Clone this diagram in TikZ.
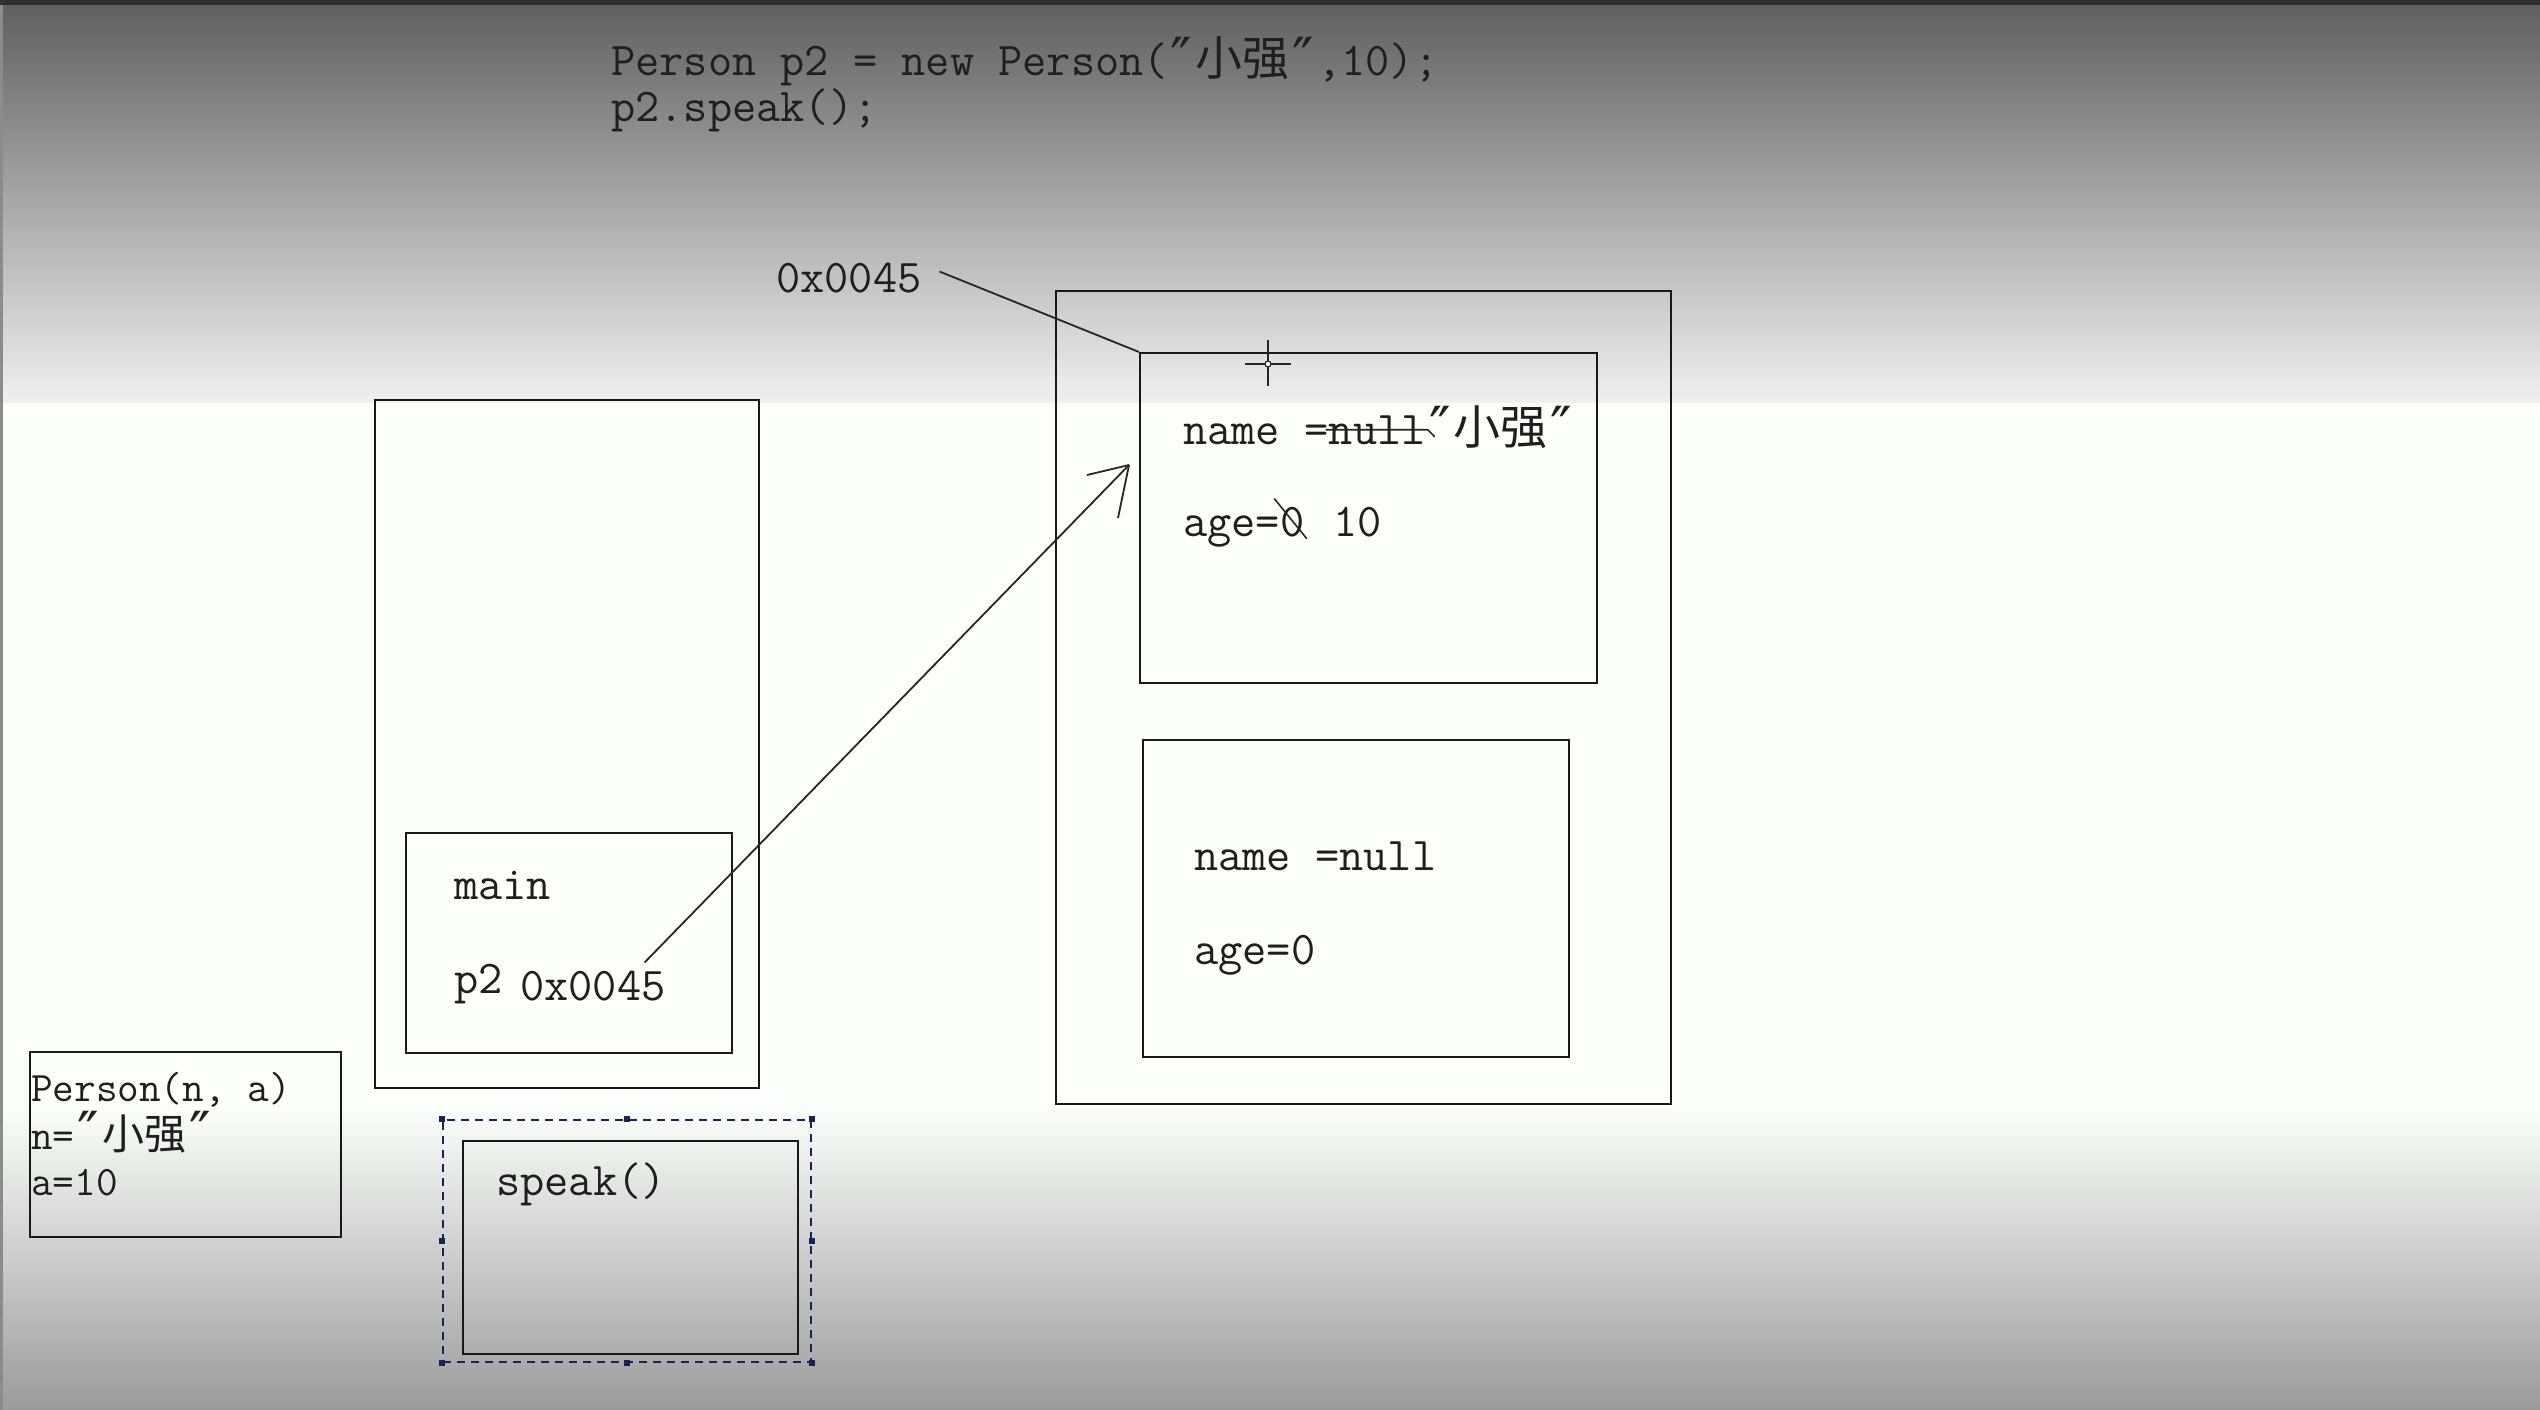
\documentclass[tikz,border=0pt]{standalone}
\usepackage{fontspec}
\newfontfamily\cjk{Noto Sans CJK SC}
\newfontfamily\djv{DejaVu Sans}
\newcommand{\qq}{\hspace{3pt}\raisebox{-4pt}{\djv\fontsize{58}{58}\selectfont\char"2033}\hspace{3pt}}
\begin{document}
\begin{tikzpicture}[x=1pt,y=-1pt,
  box/.style={draw=black!90, line width=2.2pt, inner sep=0pt, anchor=north west},
  txt/.style={inner sep=0pt, anchor=base west, text=black!88, font=\fontsize{47}{56}\selectfont\ttfamily},
  smalltxt/.style={txt, font=\fontsize{42}{48}\selectfont\ttfamily},
  pen/.style={draw=black!85, line width=1.8pt},
  selbox/.style={draw=selnavy, line width=2pt, dash pattern=on 8pt off 6pt},
  handle/.style={fill=selnavy, minimum size=6pt, inner sep=0pt}]
\definecolor{bgtop}{RGB}{94,94,94}
\definecolor{bgmid}{RGB}{240,240,240}
\definecolor{bgbot}{RGB}{155,155,155}
\definecolor{bgwhite}{RGB}{252,254,252}
\definecolor{selnavy}{RGB}{25,35,85}
\useasboundingbox (0,0) rectangle (2540,1410);
% background
\fill[bgwhite] (0,0) rectangle (2540,1410);
\shade[top color=bgtop, bottom color=bgmid] (0,0) rectangle (2540,402);
\shade[top color=bgwhite, bottom color=bgbot] (0,1106) rectangle (2540,1410);
\fill[black!82] (0,0) rectangle (2540,5);
\draw[black!45, line width=3pt] (1.5,5) -- (1.5,1410);

% code
\node[txt] (code1) at (611,76) {Person p2 = new Person(\qq{\cjk 小强}\qq,10);};
\node[txt] (code2) at (611,122) {p2.speak();};

% stack
\node[box, minimum width=384pt, minimum height=688pt] (stack) at (374,399) {};
\node[box, minimum width=326pt, minimum height=220pt] (mainf) at (405,832) {};
\node[txt] (mainlbl) at (454,899) {main};
\node[txt] (p2lbl) at (454,993) {p2};
\node[txt] (p2val) at (520,1000) {0x0045};

% heap
\node[box, minimum width=615pt, minimum height=813pt] (heap) at (1055,290) {};
\node[box, minimum width=457pt, minimum height=330pt] (obj1) at (1139,352) {};
\node[box, minimum width=426pt, minimum height=317pt] (obj2) at (1142,739) {};

\node[txt] (addr) at (776,292) {0x0045};
\draw[pen] ([shift={(18,-6)}]addr.east) -- (obj1.north west);

% obj1 fields
\node[txt] (o1name) at (1183,444) {name =};
\node[txt] (o1null) at (o1name.base east) {null};
\node[txt] (o1new) at (o1null.base east) {\qq{\cjk 小强}\qq};
\draw[black!85, line width=1.6pt] ([xshift=-3]o1null.west) -- ([xshift=2]o1null.east) -- ++(7,7);
\node[txt] (o1age) at (1183,536) {age=};
\node[txt] (o1zero) at (o1age.base east) {0};
\node[txt] (o1ten) at ([xshift=28]o1zero.base east) {10};
\draw[black!85, line width=1.6pt] ([shift={(-6,-8)}]o1zero.north west) -- ([shift={(2,2)}]o1zero.south east);

% obj2 fields
\node[txt] (o2name) at (1194,870) {name =null};
\node[txt] (o2age) at (1194,964) {age=0};

% cursor
\coordinate (cur) at (1268,364);
\draw[black!85, line width=2pt] ([yshift=-22]cur) -- ([yshift=24]cur);
\draw[black!85, line width=2pt] ([xshift=-23]cur) -- ([xshift=23]cur);
\draw[black!85, fill=white, line width=1.2pt] (cur) circle (3pt);

% reference arrow
\coordinate (tip) at (1129,465);
\draw[pen] ([shift={(-21,-8)}]p2val.north east) -- (tip);
\draw[pen] (tip) -- ++(-42,10);
\draw[pen] (tip) -- ++(-11,53);

% constructor frame
\node[box, minimum width=311pt, minimum height=185pt] (ctor) at (29,1051) {};
\node[smalltxt] (c1) at (31,1101) {Person(n, a)};
\node[smalltxt] (c2) at (31,1149) {n=\qq{\cjk 小强}\qq};
\node[smalltxt] (c3) at (31,1195) {a=10};

% speak frame with selection
\node[selbox, inner sep=0pt, anchor=north west, minimum width=368pt, minimum height=242pt] (sel) at (442,1119) {};
\foreach \a in {north west,north,north east,east,south east,south,south west,west}
  \node[handle] at (sel.\a) {};
\node[box, minimum width=335pt, minimum height=213pt] (speakf) at (462,1140) {};
\node[txt] (speaklbl) at (496,1195) {speak()};
\end{tikzpicture}
\end{document}
